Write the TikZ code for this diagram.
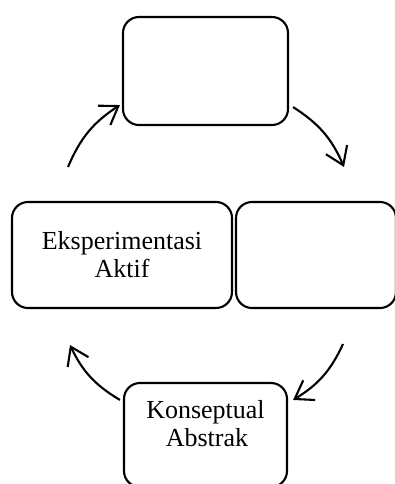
\documentclass[tikz,border=0pt]{standalone}
\usepackage{fontspec}
\setmainfont{Liberation Serif}
\usepackage{tikz}
\usetikzlibrary{arrows.meta}
\tikzset{
  cyclebox/.style={
    draw=black,
    line width=2.1pt,
    rounded corners=16pt,
    align=center,
    inner sep=0pt,
    font=\fontsize{26}{28}\selectfont
  },
  cyclearrow/.style={
    draw=black,
    line width=2.1pt,
    -{Straight Barb[length=17pt,width=23pt,line width=2.1pt]},
    bend left=17
  }
}

\begin{document}
\begin{tikzpicture}[x=1pt,y=1pt]
  \useasboundingbox (0,0) rectangle (394,-484);
  \node[cyclebox,minimum width=165pt,minimum height=108pt] (top) at (205.5,-71) {};
  \node[cyclebox,minimum width=220pt,minimum height=106pt] (aktif) at (122,-255) {Eksperimentasi\\Aktif};
  \node[cyclebox,minimum width=160pt,minimum height=106pt] (right) at (316,-255) {};
  \node[cyclebox,minimum width=163pt,minimum height=104pt] (abstrak) at (205.5,-435)
    {\raisebox{8pt}[\height][\depth]{\begin{tabular}{@{}c@{}}Konseptual\hspace{6pt}\\\hspace{3pt}Abstrak\end{tabular}}};
  % free ends of the arcs
  \coordinate (c1) at (68,-167);
  \coordinate (c2) at (344,-167);
  \coordinate (c3) at (343,-344);
  \coordinate (c4) at (70,-345);
  \draw[cyclearrow] (c1) to ([shift={(-2pt,21pt)}]top.south west);
  \draw[cyclearrow] ([shift={(4pt,19pt)}]top.south east) to (c2);
  \draw[cyclearrow] (c3) to ([shift={(5pt,-18pt)}]abstrak.north east);
  \draw[cyclearrow] ([shift={(-3pt,-18pt)}]abstrak.north west) to (c4);
\end{tikzpicture}
\end{document}
